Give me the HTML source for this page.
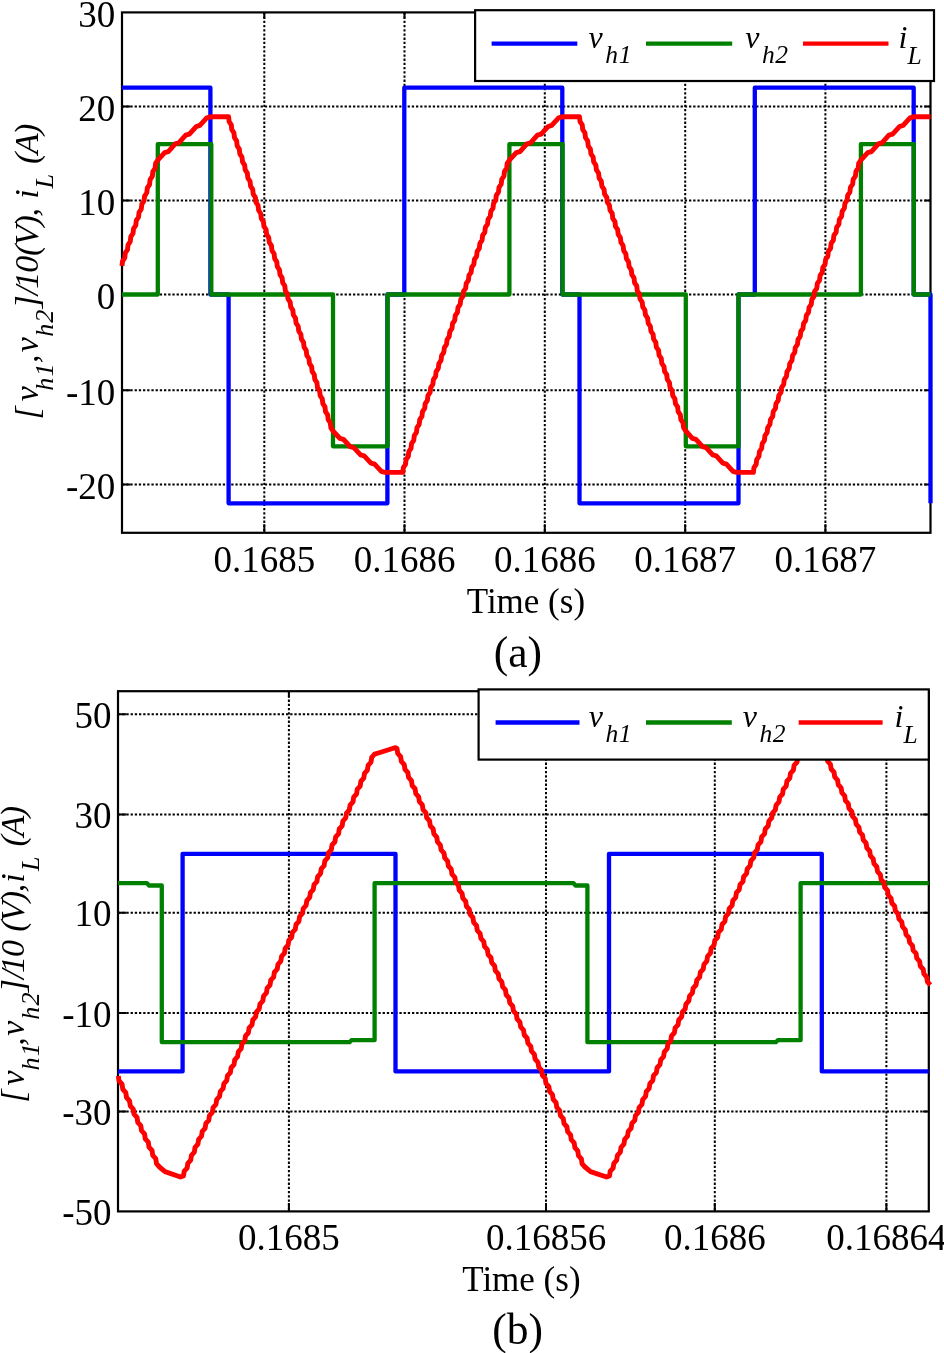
<!DOCTYPE html>
<html><head><meta charset="utf-8"><title>Figure</title>
<style>
html,body{margin:0;padding:0;background:#fff;}
body{width:944px;height:1353px;overflow:hidden;}
svg{display:block;will-change:transform;}
text{font-family:"Liberation Serif",serif;fill:#000;}
.it{font-style:italic;}
</style></head><body>
<svg width="944" height="1353" viewBox="0 0 944 1353">
<rect x="0" y="0" width="944" height="1353" fill="#fff"/>
<g stroke="#000" stroke-width="2" stroke-dasharray="2.3 1.9" fill="none"><line x1="122" y1="106.4" x2="930.5" y2="106.4"/><line x1="122" y1="200.5" x2="930.5" y2="200.5"/><line x1="122" y1="294.6" x2="930.5" y2="294.6"/><line x1="122" y1="390.3" x2="930.5" y2="390.3"/><line x1="122" y1="484.4" x2="930.5" y2="484.4"/><line x1="264.3" y1="12.4" x2="264.3" y2="532.8"/><line x1="404.5" y1="12.4" x2="404.5" y2="532.8"/><line x1="544.8" y1="12.4" x2="544.8" y2="532.8"/><line x1="685.2" y1="12.4" x2="685.2" y2="532.8"/><line x1="825.4" y1="12.4" x2="825.4" y2="532.8"/></g>
<path d="M122 106.4H130.5M930.5 106.4H924.5M122 200.5H130.5M930.5 200.5H924.5M122 294.6H130.5M930.5 294.6H924.5M122 390.3H130.5M930.5 390.3H924.5M122 484.4H130.5M930.5 484.4H924.5M264.3 532.8V524.3M264.3 12.4V18.4M404.5 532.8V524.3M404.5 12.4V18.4M544.8 532.8V524.3M544.8 12.4V18.4M685.2 532.8V524.3M685.2 12.4V18.4M825.4 532.8V524.3M825.4 12.4V18.4" stroke="#000" stroke-width="2" fill="none"/>
<rect x="122" y="12.4" width="808.5" height="520.4" fill="none" stroke="#000" stroke-width="2.2"/>
<polyline points="122,87.7 210.4,87.7 210.4,294.5 228.6,294.5 228.6,503.28 387.4,503.28 387.4,294.5 404.3,294.5 404.3,87.7 562.3,87.7 562.3,294.5 579.5,294.5 579.5,503.28 738.5,503.28 738.5,294.5 754.8,294.5 754.8,87.7 913.7,87.7 913.7,294.5 930.5,294.5 930.5,503.28" fill="none" stroke="#0000ff" stroke-width="4.3" stroke-linejoin="round" stroke-linecap="butt"/>
<polyline points="122,294.5 157.8,294.5 157.8,144.1 211.3,144.1 211.3,294.5 333,294.5 333,446.34 387.6,446.34 387.6,294.5 509.4,294.5 509.4,144.1 562.6,144.1 562.6,294.5 685.8,294.5 685.8,446.34 738.5,446.34 738.5,294.5 860.9,294.5 860.9,144.1 913.8,144.1 913.8,294.5 930.5,294.5" fill="none" stroke="#008000" stroke-width="4.3" stroke-linejoin="round" stroke-linecap="butt"/>
<polyline points="122,266 122.55,261.12 124.75,257.86 125.3,252.98 127.51,249.72 128.06,244.84 130.26,241.58 130.81,236.7 133.02,233.45 133.57,228.56 135.77,225.31 136.32,220.42 138.52,217.17 139.07,212.29 141.28,209.03 141.83,204.15 144.03,200.89 144.58,196.01 146.78,192.75 147.34,187.87 149.54,184.62 150.09,179.73 152.29,176.48 152.84,171.59 155.05,168.34 155.6,163.46 157.8,160.2 164.64,152.56 168.32,151.52 175.16,143.88 178.84,142.84 185.68,135.2 189.36,134.16 196.2,126.52 199.88,125.48 206.72,117.84 210.4,116.8 228.6,116.8 229.14,121.63 231.28,124.86 231.81,129.69 233.95,132.91 234.49,137.75 236.63,140.97 237.17,145.8 239.31,149.03 239.84,153.86 241.98,157.08 242.52,161.92 244.66,165.14 245.2,169.97 247.34,173.19 247.87,178.03 250.02,181.25 250.55,186.09 252.69,189.31 253.23,194.14 255.37,197.36 255.9,202.2 258.05,205.42 258.58,210.25 260.72,213.48 261.26,218.31 263.4,221.53 263.94,226.37 266.08,229.59 266.61,234.42 268.75,237.65 269.29,242.48 271.43,245.7 271.97,250.54 274.11,253.76 274.64,258.59 276.78,261.82 277.32,266.65 279.46,269.87 280,274.71 282.14,277.93 282.67,282.76 284.82,285.98 285.35,290.82 287.49,294.04 288.03,298.87 290.17,302.1 290.7,306.93 292.85,310.15 293.38,314.99 295.52,318.21 296.06,323.04 298.2,326.27 298.74,331.1 300.88,334.32 301.41,339.16 303.55,342.38 304.09,347.21 306.23,350.44 306.77,355.27 308.91,358.49 309.44,363.33 311.58,366.55 312.12,371.38 314.26,374.61 314.8,379.44 316.94,382.66 317.47,387.5 319.62,390.72 320.15,395.55 322.29,398.77 322.83,403.61 324.97,406.83 325.5,411.66 327.65,414.89 328.18,419.72 330.32,422.94 330.86,427.78 333,431 339.76,438.29 343.4,439.28 350.16,446.57 353.8,447.56 360.56,454.85 364.2,455.84 370.96,463.13 374.6,464.12 381.36,471.41 385,472.4 402.8,472.4 403.35,467.6 405.53,464.39 406.08,459.59 408.27,456.39 408.81,451.59 411,448.38 411.55,443.58 413.73,440.38 414.28,435.58 416.47,432.37 417.01,427.57 419.2,424.37 419.75,419.57 421.93,416.36 422.48,411.56 424.67,408.36 425.21,403.56 427.4,400.35 427.95,395.55 430.13,392.35 430.68,387.55 432.87,384.34 433.41,379.54 435.6,376.34 436.15,371.54 438.33,368.33 438.88,363.53 441.07,360.33 441.61,355.53 443.8,352.32 444.35,347.52 446.53,344.32 447.08,339.51 449.27,336.31 449.81,331.51 452,328.31 452.55,323.5 454.73,320.3 455.28,315.5 457.47,312.3 458.01,307.49 460.2,304.29 460.75,299.49 462.93,296.29 463.48,291.48 465.67,288.28 466.21,283.48 468.4,280.28 468.95,275.47 471.13,272.27 471.68,267.47 473.87,264.27 474.41,259.46 476.6,256.26 477.15,251.46 479.33,248.26 479.88,243.45 482.07,240.25 482.61,235.45 484.8,232.25 485.35,227.44 487.53,224.24 488.08,219.44 490.27,216.24 490.81,211.43 493,208.23 493.55,203.43 495.73,200.23 496.28,195.42 498.47,192.22 499.01,187.42 501.2,184.22 501.75,179.41 503.93,176.21 504.48,171.41 506.67,168.21 507.21,163.4 509.4,160.2 516.28,152.56 519.98,151.52 526.86,143.88 530.56,142.84 537.44,135.2 541.14,134.16 548.02,126.52 551.72,125.48 558.6,117.84 562.3,116.8 579.5,116.8 580.05,121.63 582.23,124.86 582.77,129.69 584.95,132.91 585.5,137.75 587.68,140.97 588.22,145.8 590.4,149.03 590.95,153.86 593.13,157.08 593.67,161.92 595.85,165.14 596.4,169.97 598.58,173.19 599.12,178.03 601.31,181.25 601.85,186.09 604.03,189.31 604.58,194.14 606.76,197.36 607.3,202.2 609.48,205.42 610.03,210.25 612.21,213.48 612.75,218.31 614.93,221.53 615.48,226.37 617.66,229.59 618.2,234.42 620.38,237.65 620.93,242.48 623.11,245.7 623.66,250.54 625.84,253.76 626.38,258.59 628.56,261.82 629.11,266.65 631.29,269.87 631.83,274.71 634.01,277.93 634.56,282.76 636.74,285.98 637.28,290.82 639.46,294.04 640.01,298.87 642.19,302.1 642.73,306.93 644.92,310.15 645.46,314.99 647.64,318.21 648.19,323.04 650.37,326.27 650.91,331.1 653.09,334.32 653.64,339.16 655.82,342.38 656.36,347.21 658.54,350.44 659.09,355.27 661.27,358.49 661.81,363.33 663.99,366.55 664.54,371.38 666.72,374.61 667.27,379.44 669.45,382.66 669.99,387.5 672.17,390.72 672.72,395.55 674.9,398.77 675.44,403.61 677.62,406.83 678.17,411.66 680.35,414.89 680.89,419.72 683.07,422.94 683.62,427.78 685.8,431 692.4,438.29 695.96,439.28 702.56,446.57 706.12,447.56 712.72,454.85 716.28,455.84 722.88,463.13 726.44,464.12 733.04,471.41 736.6,472.4 753.4,472.4 753.95,467.6 756.16,464.39 756.71,459.59 758.91,456.39 759.46,451.59 761.67,448.38 762.22,443.58 764.43,440.38 764.98,435.58 767.18,432.37 767.73,427.57 769.94,424.37 770.49,419.57 772.69,416.36 773.25,411.56 775.45,408.36 776,403.56 778.21,400.35 778.76,395.55 780.96,392.35 781.52,387.55 783.72,384.34 784.27,379.54 786.48,376.34 787.03,371.54 789.23,368.33 789.78,363.53 791.99,360.33 792.54,355.53 794.75,352.32 795.3,347.52 797.5,344.32 798.05,339.51 800.26,336.31 800.81,331.51 803.02,328.31 803.57,323.5 805.77,320.3 806.32,315.5 808.53,312.3 809.08,307.49 811.28,304.29 811.84,299.49 814.04,296.29 814.59,291.48 816.8,288.28 817.35,283.48 819.55,280.28 820.11,275.47 822.31,272.27 822.86,267.47 825.07,264.27 825.62,259.46 827.82,256.26 828.37,251.46 830.58,248.26 831.13,243.45 833.34,240.25 833.89,235.45 836.09,232.25 836.64,227.44 838.85,224.24 839.4,219.44 841.61,216.24 842.16,211.43 844.36,208.23 844.91,203.43 847.12,200.23 847.67,195.42 849.87,192.22 850.43,187.42 852.63,184.22 853.18,179.41 855.39,176.21 855.94,171.41 858.14,168.21 858.69,163.4 860.9,160.2 867.76,152.56 871.46,151.52 878.32,143.88 882.02,142.84 888.88,135.2 892.58,134.16 899.44,126.52 903.14,125.48 910,117.84 913.7,116.8 930.5,116.8" fill="none" stroke="#ff0000" stroke-width="4.9" stroke-linejoin="round" stroke-linecap="butt"/>
<rect x="475.1" y="10.2" width="458.9" height="70.8" fill="#fff" stroke="#000" stroke-width="2.2"/>
<line x1="491.6" y1="43.7" x2="577.3" y2="43.7" stroke="#0000ff" stroke-width="4.3"/>
<line x1="646" y1="43.7" x2="732.2" y2="43.7" stroke="#008000" stroke-width="4.3"/>
<line x1="803" y1="43.7" x2="888.5" y2="43.7" stroke="#ff0000" stroke-width="4.3"/>
<text class="it" x="588.6" y="48" font-size="32">v<tspan font-size="25.5" dx="2.5" dy="15" letter-spacing="0.6">h1</tspan></text>
<text class="it" x="745.3" y="48" font-size="32">v<tspan font-size="25.5" dx="2.5" dy="15" letter-spacing="0.6">h2</tspan></text>
<text class="it" x="898.5" y="48" font-size="32">i<tspan font-size="25.5" dx="0" dy="16" letter-spacing="0.6">L</tspan></text>
<text x="115.3" y="26.8" font-size="37" text-anchor="end">30</text>
<text x="115.3" y="120.8" font-size="37" text-anchor="end">20</text>
<text x="115.3" y="214.9" font-size="37" text-anchor="end">10</text>
<text x="115.3" y="309" font-size="37" text-anchor="end">0</text>
<text x="115.3" y="404.7" font-size="37" text-anchor="end">-10</text>
<text x="115.3" y="498.8" font-size="37" text-anchor="end">-20</text>
<text x="264.3" y="572" font-size="37" text-anchor="middle">0.1685</text>
<text x="404.5" y="572" font-size="37" text-anchor="middle">0.1686</text>
<text x="544.8" y="572" font-size="37" text-anchor="middle">0.1686</text>
<text x="685.2" y="572" font-size="37" text-anchor="middle">0.1687</text>
<text x="825.4" y="572" font-size="37" text-anchor="middle">0.1687</text>
<text x="525.9" y="613.3" font-size="35" text-anchor="middle">Time (s)</text>
<text x="517.9" y="667.3" font-size="43.5" text-anchor="middle">(a)</text>
<g class="it" transform="translate(0,0) rotate(-90)"><text class="it" x="-419.56" y="37.6" font-size="34">[</text><text class="it" x="-401.16" y="37.6" font-size="34">v</text><text class="it" x="-390.64" y="52.6" font-size="26" letter-spacing="1.2">h1</text><text class="it" x="-362.93" y="37.6" font-size="34">,</text><text class="it" x="-352.26" y="37.6" font-size="34">v</text><text class="it" x="-336.84" y="52.6" font-size="26" letter-spacing="1.2">h2</text><text class="it" x="-308.59" y="37.6" font-size="34">]/</text><text class="it" x="-288.81" y="37.6" font-size="34" letter-spacing="-1">10</text><text class="it" x="-255.9" y="37.6" font-size="34" letter-spacing="-1.3">(V),</text><text class="it" x="-198.79" y="37.6" font-size="34">i</text><text class="it" x="-188.6" y="52.6" font-size="26" letter-spacing="1.2">L</text><text class="it" x="-164" y="37.6" font-size="34" letter-spacing="-1.5">(A)</text></g>
<g stroke="#000" stroke-width="2" stroke-dasharray="2.3 1.9" fill="none"><line x1="118" y1="714.2" x2="928.8" y2="714.2"/><line x1="118" y1="814.4" x2="928.8" y2="814.4"/><line x1="118" y1="912.8" x2="928.8" y2="912.8"/><line x1="118" y1="1012.9" x2="928.8" y2="1012.9"/><line x1="118" y1="1111.6" x2="928.8" y2="1111.6"/><line x1="288.9" y1="691.2" x2="288.9" y2="1211.4"/><line x1="546" y1="691.2" x2="546" y2="1211.4"/><line x1="714.8" y1="691.2" x2="714.8" y2="1211.4"/><line x1="886.4" y1="691.2" x2="886.4" y2="1211.4"/></g>
<path d="M118 714.2H126.5M928.8 714.2H922.8M118 814.4H126.5M928.8 814.4H922.8M118 912.8H126.5M928.8 912.8H922.8M118 1012.9H126.5M928.8 1012.9H922.8M118 1111.6H126.5M928.8 1111.6H922.8M288.9 1211.4V1202.9M288.9 691.2V697.2M546 1211.4V1202.9M546 691.2V697.2M714.8 1211.4V1202.9M714.8 691.2V697.2M886.4 1211.4V1202.9M886.4 691.2V697.2" stroke="#000" stroke-width="2" fill="none"/>
<rect x="118" y="691.2" width="810.8" height="520.2" fill="none" stroke="#000" stroke-width="2.2"/>
<polyline points="118,1071.44 182.6,1071.44 182.6,853.86 395.5,853.86 395.5,1071.44 609,1071.44 609,853.86 821.8,853.86 821.8,1071.44 928.8,1071.44" fill="none" stroke="#0000ff" stroke-width="4.3" stroke-linejoin="round" stroke-linecap="butt"/>
<polyline points="118,883.2 147,883.2 149,885.5 161.8,885.5 161.8,1042.2 349.5,1042.2 351.5,1040.2 374.6,1040.2 374.6,883.2 573.5,883.2 575.5,885.5 587.4,885.5 587.4,1042.2 775.8,1042.2 777.8,1040.2 800.6,1040.2 800.6,883.2 928.8,883.2" fill="none" stroke="#008000" stroke-width="4.3" stroke-linejoin="round" stroke-linecap="butt"/>
<polyline points="118.3,1076 119.05,1080.96 122.05,1084.27 122.79,1089.24 125.79,1092.55 126.54,1097.51 129.54,1100.82 130.29,1105.78 133.28,1109.09 134.03,1114.05 137.03,1117.36 137.78,1122.33 140.77,1125.64 141.52,1130.6 144.52,1133.91 145.27,1138.87 148.26,1142.18 149.01,1147.15 152.01,1150.45 152.76,1155.42 155.75,1158.73 156.5,1163.69 159.5,1167 165,1171.6 180.5,1177 183.5,1176 184.22,1171.22 187.11,1168.04 187.83,1163.27 190.71,1160.08 191.43,1155.31 194.32,1152.12 195.04,1147.35 197.92,1144.17 198.64,1139.39 201.53,1136.21 202.25,1131.43 205.13,1128.25 205.86,1123.47 208.74,1120.29 209.46,1115.52 212.35,1112.33 213.07,1107.56 215.95,1104.37 216.67,1099.6 219.56,1096.42 220.28,1091.64 223.16,1088.46 223.88,1083.68 226.77,1080.5 227.49,1075.72 230.37,1072.54 231.09,1067.76 233.98,1064.58 234.7,1059.81 237.58,1056.62 238.31,1051.85 241.19,1048.66 241.91,1043.89 244.8,1040.71 245.52,1035.93 248.4,1032.75 249.12,1027.97 252.01,1024.79 252.73,1020.01 255.61,1016.83 256.33,1012.06 259.22,1008.87 259.94,1004.1 262.82,1000.91 263.55,996.14 266.43,992.95 267.15,988.18 270.04,985 270.76,980.22 273.64,977.04 274.36,972.26 277.25,969.08 277.97,964.3 280.85,961.12 281.57,956.35 284.46,953.16 285.18,948.39 288.06,945.2 288.79,940.43 291.67,937.25 292.39,932.47 295.28,929.29 296,924.51 298.88,921.33 299.6,916.55 302.49,913.37 303.21,908.59 306.09,905.41 306.81,900.64 309.7,897.45 310.42,892.68 313.3,889.49 314.02,884.72 316.91,881.54 317.63,876.76 320.52,873.58 321.24,868.8 324.12,865.62 324.84,860.84 327.73,857.66 328.45,852.89 331.33,849.7 332.05,844.93 334.94,841.74 335.66,836.97 338.54,833.78 339.26,829.01 342.15,825.83 342.87,821.05 345.75,817.87 346.48,813.09 349.36,809.91 350.08,805.13 352.97,801.95 353.69,797.18 356.57,793.99 357.29,789.22 360.18,786.03 360.9,781.26 363.78,778.08 364.5,773.3 367.39,770.12 368.11,765.34 370.99,762.16 371.72,757.38 374.6,754.2 380,752.5 392.5,748.5 395.5,747.6 397,748.5 397.72,753.33 400.62,756.55 401.34,761.38 404.23,764.6 404.95,769.42 407.85,772.64 408.57,777.47 411.46,780.69 412.18,785.52 415.08,788.74 415.8,793.57 418.69,796.79 419.42,801.62 422.31,804.84 423.03,809.67 425.92,812.88 426.65,817.71 429.54,820.93 430.26,825.76 433.15,828.98 433.88,833.81 436.77,837.03 437.49,841.86 440.38,845.08 441.11,849.91 444,853.12 444.72,857.95 447.62,861.17 448.34,866 451.23,869.22 451.95,874.05 454.85,877.27 455.57,882.1 458.46,885.32 459.18,890.15 462.08,893.37 462.8,898.19 465.69,901.41 466.42,906.24 469.31,909.46 470.03,914.29 472.92,917.51 473.65,922.34 476.54,925.56 477.26,930.39 480.15,933.61 480.88,938.43 483.77,941.65 484.49,946.48 487.38,949.7 488.11,954.53 491,957.75 491.72,962.58 494.62,965.8 495.34,970.63 498.23,973.85 498.95,978.67 501.85,981.89 502.57,986.72 505.46,989.94 506.18,994.77 509.08,997.99 509.8,1002.82 512.69,1006.04 513.42,1010.87 516.31,1014.09 517.03,1018.92 519.92,1022.13 520.65,1026.96 523.54,1030.18 524.26,1035.01 527.15,1038.23 527.88,1043.06 530.77,1046.28 531.49,1051.11 534.38,1054.33 535.11,1059.16 538,1062.38 538.72,1067.2 541.62,1070.42 542.34,1075.25 545.23,1078.47 545.95,1083.3 548.85,1086.52 549.57,1091.35 552.46,1094.57 553.18,1099.4 556.08,1102.62 556.8,1107.44 559.69,1110.66 560.42,1115.49 563.31,1118.71 564.03,1123.54 566.92,1126.76 567.65,1131.59 570.54,1134.81 571.26,1139.64 574.15,1142.86 574.88,1147.68 577.77,1150.9 578.49,1155.73 581.38,1158.95 582.11,1163.78 585,1167 590.5,1171.6 606.5,1177 609.5,1176 610.22,1171.22 613.11,1168.04 613.83,1163.27 616.71,1160.08 617.43,1155.31 620.32,1152.12 621.04,1147.35 623.92,1144.17 624.64,1139.39 627.53,1136.21 628.25,1131.43 631.13,1128.25 631.86,1123.47 634.74,1120.29 635.46,1115.52 638.35,1112.33 639.07,1107.56 641.95,1104.37 642.67,1099.6 645.56,1096.42 646.28,1091.64 649.16,1088.46 649.88,1083.68 652.77,1080.5 653.49,1075.72 656.37,1072.54 657.09,1067.76 659.98,1064.58 660.7,1059.81 663.58,1056.62 664.31,1051.85 667.19,1048.66 667.91,1043.89 670.8,1040.71 671.52,1035.93 674.4,1032.75 675.12,1027.97 678.01,1024.79 678.73,1020.01 681.61,1016.83 682.33,1012.06 685.22,1008.87 685.94,1004.1 688.82,1000.91 689.55,996.14 692.43,992.95 693.15,988.18 696.04,985 696.76,980.22 699.64,977.04 700.36,972.26 703.25,969.08 703.97,964.3 706.85,961.12 707.57,956.35 710.46,953.16 711.18,948.39 714.06,945.2 714.79,940.43 717.67,937.25 718.39,932.47 721.28,929.29 722,924.51 724.88,921.33 725.6,916.55 728.49,913.37 729.21,908.59 732.09,905.41 732.81,900.64 735.7,897.45 736.42,892.68 739.3,889.49 740.02,884.72 742.91,881.54 743.63,876.76 746.52,873.58 747.24,868.8 750.12,865.62 750.84,860.84 753.73,857.66 754.45,852.89 757.33,849.7 758.05,844.93 760.94,841.74 761.66,836.97 764.54,833.78 765.26,829.01 768.15,825.83 768.87,821.05 771.75,817.87 772.48,813.09 775.36,809.91 776.08,805.13 778.97,801.95 779.69,797.18 782.57,793.99 783.29,789.22 786.18,786.03 786.9,781.26 789.78,778.08 790.5,773.3 793.39,770.12 794.11,765.34 796.99,762.16 797.72,757.38 800.6,754.2 806,752.5 818.5,748.5 821.8,747.6 823.3,748.5 824.01,753.23 826.87,756.38 827.58,761.11 830.43,764.27 831.15,769 834,772.15 834.71,776.88 837.57,780.03 838.28,784.76 841.13,787.92 841.85,792.65 844.7,795.8 845.41,800.53 848.27,803.68 848.98,808.41 851.83,811.57 852.55,816.3 855.4,819.45 856.11,824.18 858.97,827.33 859.68,832.06 862.53,835.22 863.25,839.95 866.1,843.1 866.81,847.83 869.67,850.98 870.38,855.71 873.23,858.87 873.95,863.6 876.8,866.75 877.51,871.48 880.37,874.63 881.08,879.36 883.93,882.52 884.65,887.25 887.5,890.4 888.21,895.13 891.07,898.28 891.78,903.01 894.63,906.17 895.35,910.9 898.2,914.05 898.91,918.78 901.77,921.93 902.48,926.66 905.33,929.82 906.05,934.55 908.9,937.7 909.61,942.43 912.47,945.58 913.18,950.31 916.03,953.47 916.75,958.2 919.6,961.35 920.31,966.08 923.17,969.23 923.88,973.96 926.73,977.12 927.45,981.85 930.3,985" fill="none" stroke="#ff0000" stroke-width="4.9" stroke-linejoin="round" stroke-linecap="butt"/>
<rect x="478.6" y="689.4" width="450.2" height="70.2" fill="#fff" stroke="#000" stroke-width="2.2"/>
<line x1="495.6" y1="722.5" x2="579.5" y2="722.5" stroke="#0000ff" stroke-width="4.3"/>
<line x1="646" y1="722.5" x2="731.8" y2="722.5" stroke="#008000" stroke-width="4.3"/>
<line x1="798.7" y1="722.5" x2="882.6" y2="722.5" stroke="#ff0000" stroke-width="4.3"/>
<text class="it" x="588.8" y="727" font-size="32">v<tspan font-size="25.5" dx="2.5" dy="15" letter-spacing="0.6">h1</tspan></text>
<text class="it" x="742.8" y="727" font-size="32">v<tspan font-size="25.5" dx="2.5" dy="15" letter-spacing="0.6">h2</tspan></text>
<text class="it" x="894.6" y="727" font-size="32">i<tspan font-size="25.5" dx="0" dy="16" letter-spacing="0.6">L</tspan></text>
<text x="111.5" y="727.8" font-size="37" text-anchor="end">50</text>
<text x="111.5" y="828" font-size="37" text-anchor="end">30</text>
<text x="111.5" y="926.4" font-size="37" text-anchor="end">10</text>
<text x="111.5" y="1026.5" font-size="37" text-anchor="end">-10</text>
<text x="111.5" y="1125.2" font-size="37" text-anchor="end">-30</text>
<text x="111.5" y="1225" font-size="37" text-anchor="end">-50</text>
<text x="288.9" y="1250" font-size="37" text-anchor="middle">0.1685</text>
<text x="546" y="1250" font-size="37" text-anchor="middle">0.16856</text>
<text x="714.8" y="1250" font-size="37" text-anchor="middle">0.1686</text>
<text x="886.4" y="1250" font-size="37" text-anchor="middle">0.16864</text>
<text x="521.4" y="1291" font-size="35" text-anchor="middle">Time (s)</text>
<text x="517.7" y="1344" font-size="43.5" text-anchor="middle">(b)</text>
<g class="it" transform="translate(0,0) rotate(-90)"><text class="it" x="-1102.66" y="23.8" font-size="34">[</text><text class="it" x="-1085.56" y="23.8" font-size="34">v</text><text class="it" x="-1070.54" y="38.8" font-size="26" letter-spacing="1.2">h1</text><text class="it" x="-1045.83" y="23.8" font-size="34">,</text><text class="it" x="-1035.86" y="23.8" font-size="34">v</text><text class="it" x="-1019.74" y="38.8" font-size="26" letter-spacing="1.2">h2</text><text class="it" x="-992.19" y="23.8" font-size="34">]/</text><text class="it" x="-973.11" y="23.8" font-size="34" letter-spacing="-1">10</text><text class="it" x="-931.7" y="23.8" font-size="34" letter-spacing="-1.3">(V),</text><text class="it" x="-882.69" y="23.8" font-size="34">i</text><text class="it" x="-871.1" y="38.8" font-size="26" letter-spacing="1.2">L</text><text class="it" x="-846.4" y="23.8" font-size="34" letter-spacing="-1.5">(A)</text></g>
</svg>
</body></html>
